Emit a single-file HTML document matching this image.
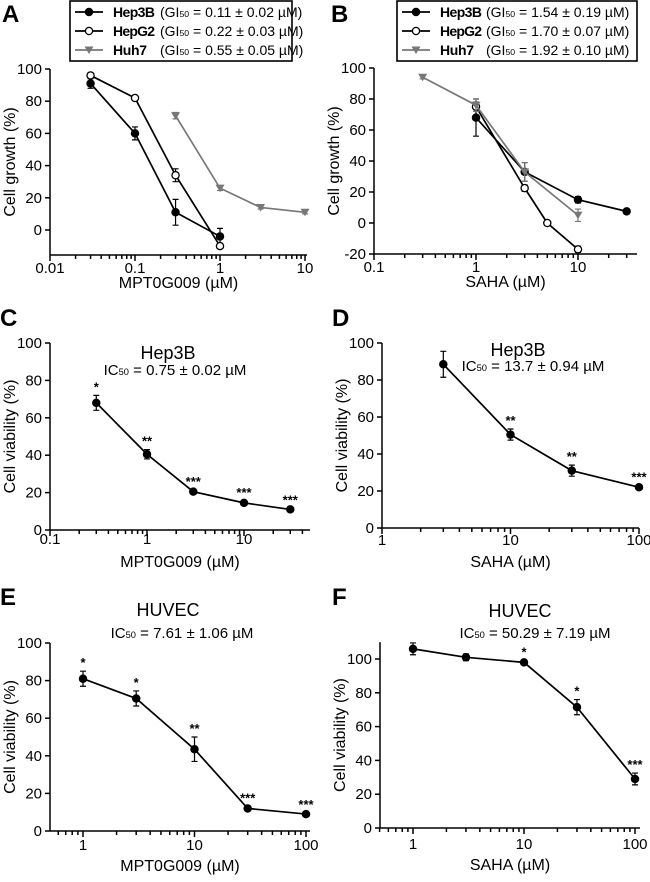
<!DOCTYPE html>
<html><head><meta charset="utf-8"><style>
body{margin:0;background:#fff}
svg{display:block;font-family:"Liberation Sans",Arial,sans-serif}
</style></head><body>
<svg id="fig" width="650" height="882" viewBox="0 0 650 882"></svg>
<script>
// ---- Panel A data ----
const aX=[0.03,0.1,0.3,1];
const aHep3B=[91,60,11,-4]; const aHep3BErr=[3,4,8,5];
const aHepG2=[96,82,34,-10]; const aHepG2Err=[1,1,4,1];
const aHuh7X=[0.3,1,3,10];
const aHuh7=[71,26,14,11]; const aHuh7Err=[2,1.5,1,1];
const aLegend=["0.11 \u00b1 0.02 \u00b5M)","0.22 \u00b1 0.03 \u00b5M)","0.55 \u00b1 0.05 \u00b5M)"];
// ---- Panel B data ----
const bHep3BX=[1,3,10,30]; const bHep3B=[68,33,15,7.5]; const bHep3BErr=[12,6,2,1];
const bHepG2X=[1,3,5,10]; const bHepG2=[75,22.5,0,-17]; const bHepG2Err=[3,2,1,2];
const bHuh7X=[0.3,1,3,10]; const bHuh7=[94,76,33,5]; const bHuh7Err=[1,4,6,4];
const bLegend=["1.54 \u00b1 0.19 \u00b5M)","1.70 \u00b1 0.07 \u00b5M)","1.92 \u00b1 0.10 \u00b5M)"];
// ---- Panel C ----
const cX=[0.3,1,3,10,30]; const cY=[68,40.5,20.5,14.5,11]; const cErr=[4,2.5,1,1,0.5];
const cStars=["*","**","***","***","***"];
// ---- Panel D ----
const dX=[3,10,30,100]; const dY=[88.5,50.5,31,22]; const dErr=[7,3,3,1];
const dStars=["","**","**","***"];
// ---- Panel E ----
const eX=[1,3,10,30,100]; const eY=[81,70.5,43.5,12,9]; const eErr=[4,4,6.5,1,0.5];
const eStars=["*","*","**","***","***"];
// ---- Panel F ----
const fX=[1,3,10,30,100]; const fY=[106,101,98,71.5,29]; const fErr=[3.5,2,1,4.5,3.5];
const fStars=["","","*","*","***"];
// ---- y ticks ----
const yTicksA=[0,20,40,60,80,100];
const yTicksB=[-20,0,20,40,60,80,100];
const yTicks=[0,20,40,60,80,100];

const NS="http://www.w3.org/2000/svg";
const svg=document.getElementById('fig');
function mk(tag,attrs,parent){const e=document.createElementNS(NS,tag);for(const k in attrs)e.setAttribute(k,attrs[k]);(parent||svg).appendChild(e);return e;}
function txt(s,x,y,size,anchor,parent,weight,fill){const t=mk('text',{x:x,y:y,'font-size':size,'text-anchor':anchor||'middle',fill:fill||'#000'},parent);if(weight)t.setAttribute('font-weight',weight);t.textContent=s;return t;}
function icText(pre,val,x,y,size,anchor,parent){
  const t=mk('text',{x:x,y:y,'font-size':size,'text-anchor':anchor||'middle'},parent);
  const a=mk('tspan',{},t);a.textContent=pre;
  const b=mk('tspan',{'font-size':size*0.62},t);b.textContent='50';
  const c=mk('tspan',{},t);c.textContent=' = '+val;
  return t;
}

function makePanel(p){
  const g=mk('g',{});
  
  
  const lx=v=>Math.log10(v);
  const sx=v=>p.xa+(lx(v)-lx(p.xd[0]))/(lx(p.xd[1])-lx(p.xd[0]))*(p.xb-p.xa);
  const sy=v=>p.y0+(v-p.yv0)/(p.yv1-p.yv0)*(p.y1-p.y0);
  const inv=px=>Math.pow(10,lx(p.xd[0])+(px-p.xa)/(p.xb-p.xa)*(lx(p.xd[1])-lx(p.xd[0])));
  const axY=sy(p.yMin), topY=sy(p.yTop);
  const ax=mk('g',{stroke:'#000','stroke-width':1.5,fill:'none'},g);
  
  
  mk('line',{x1:p.axL,y1:axY,x2:p.axR,y2:axY},ax);
  mk('line',{x1:p.axL,y1:axY,x2:p.axL,y2:topY},ax);
  p.yt.forEach(v=>{const y=sy(v);mk('line',{x1:p.axL-5,y1:y,x2:p.axL,y2:y},ax);
    const t=txt(String(v),p.axL-8,y+5,15,'end',g);
    });
  const vL=inv(p.axL), vR=inv(p.axR);
  for(let d=Math.floor(lx(vL)-1e-9);d<=Math.ceil(lx(vR));d++){
    for(let m=1;m<10;m++){const v=m*Math.pow(10,d);const x=sx(v);
      if(x<p.axL-0.5||x>p.axR+0.5)continue;
      mk('line',{x1:x,y1:axY,x2:x,y2:axY+(m===1?6:4)},ax);
      if(m===1){const lab=v>=1?String(Math.round(v)):String(+v.toFixed(4));
        const t=txt(lab,x,axY+p.tickDy,15,'middle',g);
        }}
  }
  const xt=txt(p.xTitle,(p.axL+p.axR)/2,axY+p.titleDy,16,'middle',g);
  
  const yt=txt(p.yTitle,0,0,16,'middle',g);
  yt.setAttribute('transform','translate('+(p.axL-35)+','+((axY+topY)/2)+') rotate(-90)');
  
  p.series.forEach(s=>{
    const sg=mk('g',{},g);
    
    
    const pts=s.x.map((v,i)=>[sx(v),sy(s.y[i])]);
    mk('polyline',{points:pts.map(q=>q.join(',')).join(' '),fill:'none',stroke:s.color,'stroke-width':1.7},sg);
    s.x.forEach((v,i)=>{const x=pts[i][0];const e=s.err[i];
      const y1=sy(s.y[i]+e),y2=sy(s.y[i]-e);
      const eb=mk('path',{d:`M${x},${y1}V${y2}M${x-3},${y1}H${x+3}M${x-3},${y2}H${x+3}`,stroke:s.color,'stroke-width':1.2,fill:'none'},sg);
      
      
      let mkr;
      if(s.shape==='tri'){const y=pts[i][1];mkr=mk('path',{d:`M${x-4.5},${y-3.5}H${x+4.5}L${x},${y+4}Z`,fill:s.color},sg);}
      else mkr=mk('circle',{cx:x,cy:pts[i][1],r:3.6,fill:s.shape==='open'?'#fff':s.color,stroke:s.color,'stroke-width':1.3},sg);
      
      
      if(s.stars&&s.stars[i]){const st=txt(s.stars[i],x,y1-4,13,'middle',sg,'bold');
        }
    });
  });
  return g;
}
function letter(s,x,y){const t=txt(s,x,y,24,'start',svg,'bold');}
function legend(x0,x1,names,labels,lineX,nameX,parX){
  const g=mk('g',{});
  
  
  mk('rect',{x:x0,y:1,width:x1-x0,height:60,fill:'#fff',stroke:'#000','stroke-width':1.6},g);
  const cols=['#000','#000','#777'];const shp=['fill','open','tri'];
  [12,31,50].forEach((y,i)=>{
    const en=mk('g',{},g);
    
    
    mk('line',{x1:lineX,y1:y,x2:lineX+28,y2:y,stroke:cols[i],'stroke-width':1.8},en);
    const cx=lineX+14;
    if(shp[i]==='tri')mk('path',{d:`M${cx-4.5},${y-3.5}H${cx+4.5}L${cx},${y+4}Z`,fill:cols[i]},en);
    else mk('circle',{cx:cx,cy:y,r:3.6,fill:shp[i]==='open'?'#fff':'#000',stroke:'#000','stroke-width':1.3},en);
    const nm=txt(names[i],nameX,y+5,14,'start',en,'bold');
    nm.setAttribute('textLength',names[i]==='Huh7'?34:42);
    icText('(GI',labels[i],parX,y+5,14,'start',en);
  });
}

letter('A',2,22);
makePanel({name:'panel-a',xd:[0.01,10],xa:50,xb:305,axL:50,axR:307,yv0:0,yv1:100,y0:230,y1:69,yMin:-15.5,yTop:100,yt:yTicksA,
  tickDy:18,titleDy:33,xTitle:'MPT0G009 (\u00b5M)',yTitle:'Cell growth (%)',
  series:[{key:'huh7',x:aHuh7X,y:aHuh7,err:aHuh7Err,color:'#777',shape:'tri'},
          {key:'hep3b',x:aX,y:aHep3B,err:aHep3BErr,color:'#000',shape:'fill'},
          {key:'hepg2',x:aX,y:aHepG2,err:aHepG2Err,color:'#000',shape:'open'}]});
legend(70,292,['Hep3B','HepG2','Huh7'],aLegend,75,113,160);
letter('B',331,22);
makePanel({name:'panel-b',xd:[0.1,10],xa:374,xb:578,axL:374,axR:637,yv0:0,yv1:100,y0:223,y1:68,yMin:-20,yTop:100,yt:yTicksB,
  tickDy:18,titleDy:33,xTitle:'SAHA (\u00b5M)',yTitle:'Cell growth (%)',
  series:[{key:'hep3b',x:bHep3BX,y:bHep3B,err:bHep3BErr,color:'#000',shape:'fill'},
          {key:'hepg2',x:bHepG2X,y:bHepG2,err:bHepG2Err,color:'#000',shape:'open'},
          {key:'huh7',x:bHuh7X,y:bHuh7,err:bHuh7Err,color:'#777',shape:'tri'}]});
legend(397,637,['Hep3B','HepG2','Huh7'],bLegend,402,440,486);
letter('C',0,326);
makePanel({name:'panel-c',xd:[0.1,10],xa:50,xb:244,axL:50,axR:310,yv0:0,yv1:100,y0:530,y1:343,yMin:0,yTop:100,yt:yTicks,
  tickDy:14,titleDy:37,xTitle:'MPT0G009 (\u00b5M)',yTitle:'Cell viability (%)',
  series:[{key:'hep3b',x:cX,y:cY,err:cErr,color:'#000',shape:'fill',stars:cStars}]});
txt('Hep3B',168,359,18,'middle');
icText('IC','0.75 \u00b1 0.02  \u00b5M',175,375,15,'middle');
letter('D',332,326);
makePanel({name:'panel-d',xd:[1,100],xa:382,xb:639,axL:382,axR:639,yv0:0,yv1:100,y0:528,y1:343,yMin:0,yTop:100,yt:yTicks,
  tickDy:17,titleDy:39,xTitle:'SAHA (\u00b5M)',yTitle:'Cell viability (%)',
  series:[{key:'hep3b',x:dX,y:dY,err:dErr,color:'#000',shape:'fill',stars:dStars}]});
txt('Hep3B',518,356,18,'middle');
icText('IC','13.7 \u00b1 0.94  \u00b5M',533,371,15,'middle');
letter('E',0,605);
makePanel({name:'panel-e',xd:[1,100],xa:83,xb:306,axL:50,axR:310,yv0:0,yv1:100,y0:831,y1:643,yMin:0,yTop:100,yt:yTicks,
  tickDy:19,titleDy:40,xTitle:'MPT0G009 (\u00b5M)',yTitle:'Cell viability (%)',
  series:[{key:'huvec',x:eX,y:eY,err:eErr,color:'#000',shape:'fill',stars:eStars}]});
txt('HUVEC',168,616,18,'middle');
icText('IC','7.61 \u00b1 1.06  \u00b5M',182,638,15,'middle');
letter('F',332,605);
makePanel({name:'panel-f',xd:[1,100],xa:413,xb:635,axL:380,axR:640,yv0:0,yv1:100,y0:828,y1:659,yMin:0,yTop:110,yt:yTicks,
  tickDy:21,titleDy:42,xTitle:'SAHA (\u00b5M)',yTitle:'Cell viability (%)',
  series:[{key:'huvec',x:fX,y:fY,err:fErr,color:'#000',shape:'fill',stars:fStars}]});
txt('HUVEC',520,617,18,'middle');
icText('IC','50.29 \u00b1 7.19  \u00b5M',535,638,15,'middle');
</script>
</body></html>
